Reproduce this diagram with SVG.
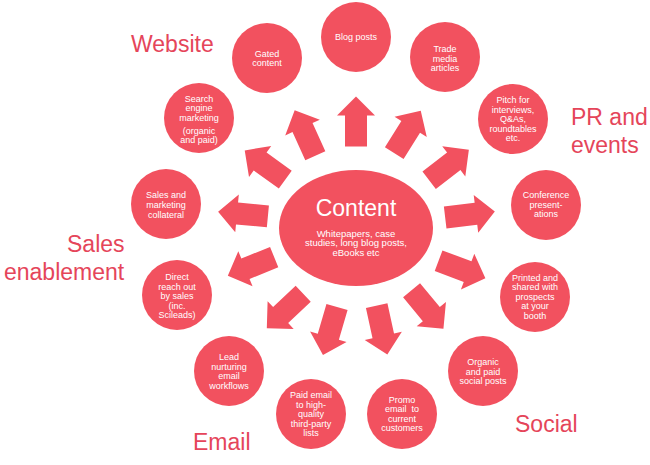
<svg xmlns="http://www.w3.org/2000/svg" width="650" height="465" viewBox="0 0 650 465">
<style>
.c{fill:#F2515F}
.a{fill:#F2515F}
.t{font-family:"Liberation Sans",Arial,sans-serif;font-size:9px;fill:#ffffff;text-anchor:middle;white-space:pre}
.L{font-family:"Liberation Sans",Arial,sans-serif;font-size:23px;fill:#E5455A}
</style>
<defs>
<polygon id="arr" points="-25,-11 6,-11 6,-19 25,0 6,19 6,11 -25,11"/>
</defs>
<rect width="650" height="465" fill="#ffffff"/>
<g id="connectors" class="a">
<use href="#arr" transform="translate(356,121.5) rotate(-90)"/>
<use href="#arr" transform="translate(305,133) rotate(-114.4)"/>
<use href="#arr" transform="translate(265,165) rotate(-144.2)"/>
<use href="#arr" transform="translate(243,214) rotate(-174.6)"/>
<use href="#arr" transform="translate(251,266.5) rotate(158)"/>
<use href="#arr" transform="translate(285,311) rotate(136.7)"/>
<use href="#arr" transform="translate(330,331) rotate(106.3)"/>
<use href="#arr" transform="translate(382,330) rotate(77.7)"/>
<use href="#arr" transform="translate(407.5,132) rotate(-58)"/>
<use href="#arr" transform="translate(449,165) rotate(-37.4)"/>
<use href="#arr" transform="translate(470,214.5) rotate(-6.8)"/>
<use href="#arr" transform="translate(462,269.5) rotate(20.6)"/>
<use href="#arr" transform="translate(427.5,309.5) rotate(50.4)"/>
</g>
<g id="content">
<ellipse class="c" cx="356" cy="228" rx="77" ry="58"/>
<text x="356" y="216" class="t" style="font-size:23px">Content</text>
<text class="t" style="font-size:9.5px"><tspan x="356" y="236.5">Whitepapers, case</tspan><tspan x="356" y="246.3">studies, long blog posts,</tspan><tspan x="356" y="256.1">eBooks etc</tspan></text>
</g>
<g id="blog"><circle class="c" cx="356" cy="37" r="35"/><text class="t" x="356" y="39.5">Blog posts</text></g>
<g id="gated"><circle class="c" cx="267" cy="58" r="35"/><text class="t"><tspan x="267" y="56.5">Gated</tspan><tspan x="267" y="66">content</tspan></text></g>
<g id="trade"><circle class="c" cx="445" cy="57" r="35"/><text class="t"><tspan x="445" y="52">Trade</tspan><tspan x="445" y="61.5">media</tspan><tspan x="445" y="71">articles</tspan></text></g>
<g id="pitch"><circle class="c" cx="513" cy="119" r="35"/><text class="t"><tspan x="513" y="103">Pitch for</tspan><tspan x="513" y="112.5">interviews,</tspan><tspan x="513" y="122">Q&amp;As,</tspan><tspan x="513" y="131.5">roundtables</tspan><tspan x="513" y="141">etc.</tspan></text></g>
<g id="search"><circle class="c" cx="199" cy="118" r="35"/><text class="t"><tspan x="199" y="101.5">Search</tspan><tspan x="199" y="111">engine</tspan><tspan x="199" y="120.5">marketing</tspan><tspan x="199" y="134">(organic</tspan><tspan x="199" y="143">and paid)</tspan></text></g>
<g id="collateral"><circle class="c" cx="166" cy="204" r="35"/><text class="t"><tspan x="166" y="198">Sales and</tspan><tspan x="166" y="207.5">marketing</tspan><tspan x="166" y="217.5">collateral</tspan></text></g>
<g id="conference"><circle class="c" cx="546" cy="205" r="35"/><text class="t"><tspan x="546" y="198">Conference</tspan><tspan x="546" y="207.5">present-</tspan><tspan x="546" y="217">ations</tspan></text></g>
<g id="printed"><circle class="c" cx="535" cy="297" r="35"/><text class="t"><tspan x="535" y="280.5">Printed and</tspan><tspan x="535" y="290">shared with</tspan><tspan x="535" y="299.5">prospects</tspan><tspan x="535" y="309">at your</tspan><tspan x="535" y="318.5">booth</tspan></text></g>
<g id="direct"><circle class="c" cx="177" cy="295" r="35"/><text class="t"><tspan x="177" y="280">Direct</tspan><tspan x="177" y="289.5">reach out</tspan><tspan x="177" y="299">by sales</tspan><tspan x="177" y="308.5">(inc.</tspan><tspan x="177" y="318">Scileads)</tspan></text></g>
<g id="organic"><circle class="c" cx="483" cy="371" r="35"/><text class="t"><tspan x="483" y="365">Organic</tspan><tspan x="483" y="374.5">and paid</tspan><tspan x="483" y="384">social posts</tspan></text></g>
<g id="lead"><circle class="c" cx="229" cy="371" r="35"/><text class="t"><tspan x="229" y="360">Lead</tspan><tspan x="229" y="369.5">nurturing</tspan><tspan x="229" y="379">email</tspan><tspan x="229" y="388.5">workflows</tspan></text></g>
<g id="paid"><circle class="c" cx="311" cy="414" r="35"/><text class="t"><tspan x="311" y="398">Paid email</tspan><tspan x="311" y="407.5">to high-</tspan><tspan x="311" y="417">quality</tspan><tspan x="311" y="426.5">third-party</tspan><tspan x="311" y="436">lists</tspan></text></g>
<g id="promo"><circle class="c" cx="402" cy="414" r="35"/><text class="t"><tspan x="402" y="402.5">Promo</tspan><tspan x="402" y="412">email  to</tspan><tspan x="402" y="421.5">current</tspan><tspan x="402" y="431">customers</tspan></text></g>
<g id="labels">
<text class="L" x="131" y="52">Website</text>
<text class="L"><tspan x="571" y="125">PR and</tspan><tspan x="571" y="153">events</tspan></text>
<text class="L"><tspan x="67" y="252">Sales</tspan><tspan x="4" y="280">enablement</tspan></text>
<text class="L" x="193" y="450">Email</text>
<text class="L" x="515" y="432">Social</text>
</g>
</svg>
